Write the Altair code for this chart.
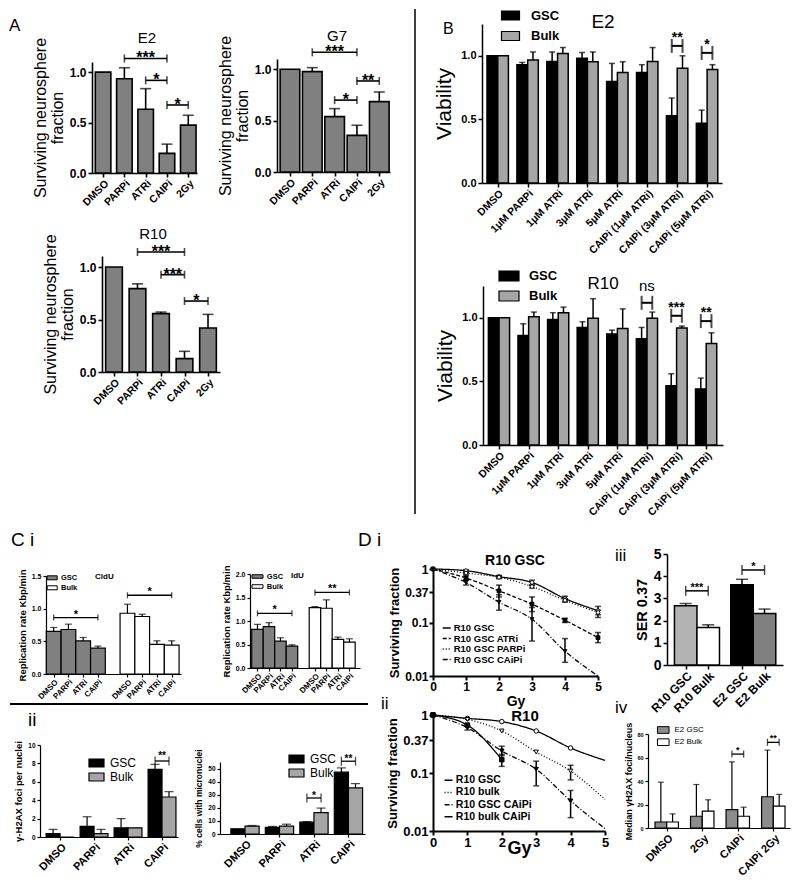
import json
import altair as alt
import pandas as pd

FONT = "Liberation Sans"
SP = pd.DataFrame({"s": [0]})

# ---------------- Panel A : surviving neurosphere fraction ----------------
A_CATS = ["DMSO", "PARPi", "ATRi", "CAIPi", "2Gy"]
A_E2_MEAN = [1.0, 0.934, 0.632, 0.194, 0.474]
A_E2_TOP = [None, 1.043, 0.836, 0.286, 0.572]
A_E2_BRACKETS = [("PARPi", "CAIPi", 1.135, "***"), ("ATRi", "CAIPi", 0.918, "*"), ("CAIPi", "2Gy", 0.674, "*")]
A_G7_MEAN = [1.0, 0.977, 0.539, 0.357, 0.685]
A_G7_TOP = [None, 1.016, 0.617, 0.455, 0.779]
A_G7_BRACKETS = [("PARPi", "CAIPi", 1.165, "***"), ("ATRi", "CAIPi", 0.700, "*"), ("CAIPi", "2Gy", 0.886, "**")]
A_R10_MEAN = [1.0, 0.794, 0.556, 0.127, 0.419]
A_R10_TOP = [None, 0.840, 0.571, 0.197, 0.549]
A_R10_BRACKETS = [("PARPi", "CAIPi", 1.143, "***"), ("ATRi", "CAIPi", 0.927, "***"), ("CAIPi", "2Gy", 0.676, "*")]

# ---------------- Panel B : viability ----------------
B_CATS_E2 = ["DMSO", "1μM PARPi", "1μM ATRi", "3μM ATRi", "5μM ATRi",
             "CAIPi (1μM ATRi)", "CAIPi (3μM ATRi)", "CAIPi (5μM ATRi)"]
B_CATS_R10 = ["DMSO", "1μM PARPi", "1μM ATRi", "3μM ATRi", "5μM ATRi",
              "CAiPi (1μM ATRi)", "CAiPi (3μM ATRi)", "CAiPi (5μM ATRi)"]
B_E2_GSC = [1.0, 0.929, 0.955, 0.980, 0.798, 0.869, 0.529, 0.469]
B_E2_GSC_TOP = [None, 0.948, 1.030, 1.026, 0.940, 0.930, 0.668, 0.573]
B_E2_BULK = [1.0, 0.966, 1.018, 0.953, 0.869, 0.955, 0.903, 0.893]
B_E2_BULK_TOP = [None, 1.030, 1.065, 1.030, 0.953, 1.065, 1.000, 0.930]
B_E2_BRACKETS = [("CAIPi (3μM ATRi)", 1.078, "**"), ("CAIPi (5μM ATRi)", 1.023, "*")]
B_R10_GSC = [1.0, 0.861, 0.987, 0.924, 0.872, 0.835, 0.466, 0.440]
B_R10_GSC_TOP = [None, 0.953, 1.040, 0.969, 0.903, 0.924, 0.560, 0.526]
B_R10_BULK = [1.0, 1.008, 1.040, 0.997, 0.916, 0.997, 0.919, 0.798]
B_R10_BULK_TOP = [None, 1.045, 1.084, 1.150, 1.070, 1.045, 0.935, 0.882]
B_R10_BRACKETS = [("CAiPi (1μM ATRi)", 1.118, "ns"), ("CAiPi (3μM ATRi)", 1.016, "***"),
                  ("CAiPi (5μM ATRi)", 0.974, "**")]

# ---------------- Panel C i : replication rate ----------------
C_CATS = ["DMSO", "PARPi", "ATRi", "CAIPi"]
CI_CLDU_GSC = [0.651, 0.681, 0.508, 0.397]
CI_CLDU_GSC_TOP = [0.712, 0.763, 0.559, 0.427]
CI_CLDU_BULK = [0.930, 0.880, 0.453, 0.442]
CI_CLDU_BULK_TOP = [1.068, 0.915, 0.508, 0.508]
CI_CLDU_BRACKETS = [("GSC", 0.864, "*"), ("Bulk", 1.205, "*")]
CI_IDU_GSC = [0.821, 0.879, 0.571, 0.464]
CI_IDU_GSC_TOP = [0.929, 0.964, 0.643, 0.493]
CI_IDU_BULK = [1.286, 1.271, 0.607, 0.550]
CI_IDU_BULK_TOP = [1.307, 1.450, 0.657, 0.621]
CI_IDU_BRACKETS = [("GSC", 1.164, "*"), ("Bulk", 1.607, "**")]

# ---------------- Panel C ii : foci and micronuclei ----------------
CII_FOCI_GSC = [0.36, 1.16, 1.00, 7.36]
CII_FOCI_GSC_TOP = [0.83, 2.20, 2.00, 7.90]
CII_FOCI_BULK = [0.00, 0.36, 1.00, 4.35]
CII_FOCI_BULK_TOP = [None, 0.83, None, 4.93]
CII_FOCI_BRACKETS = [("CAIPi", 8.26, "**")]
CII_MN_GSC = [4.0, 5.0, 9.0, 47.2]
CII_MN_GSC_TOP = [None, 5.8, 9.5, 50.5]
CII_MN_BULK = [6.0, 6.0, 16.3, 35.2]
CII_MN_BULK_TOP = [6.5, 7.5, 19.8, 38.5]
CII_MN_BRACKETS = [("ATRi", 27.5, "*"), ("CAIPi", 55.6, "**")]

# ---------------- Panel D : clonogenic survival ----------------
DOSE = [0, 1, 2, 3, 4, 5]
SF_TICKS = [0.01, 0.1, 0.37, 1]
DI_NAMES = ["R10 GSC", "R10 GSC ATRi", "R10 GSC PARPi", "R10 GSC CAiPi"]
DI_GSC = [1, 0.93, 0.72, 0.56, 0.28, 0.166]
DI_GSC_LO = [None, 0.86, 0.68, 0.50, 0.25, 0.124]
DI_GSC_HI = [None, 0.97, 0.76, 0.62, 0.31, 0.20]
DI_ATRI = [1, 0.68, 0.39, 0.22, 0.11, 0.052]
DI_ATRI_LO = [None, 0.62, 0.30, 0.16, 0.10, 0.042]
DI_ATRI_HI = [None, 0.75, 0.50, 0.30, 0.12, 0.065]
DI_PARPI = [1, 0.84, 0.70, 0.47, 0.26, 0.154]
DI_PARPI_LO = [None, 0.80, 0.66, 0.44, 0.24, 0.14]
DI_PARPI_HI = [None, 0.88, 0.74, 0.50, 0.28, 0.17]
DI_CAIPI = [1, 0.56, 0.24, 0.115, 0.029, 0.01]
DI_CAIPI_LO = [None, 0.50, 0.17, 0.045, 0.018, None]
DI_CAIPI_HI = [None, 0.62, 0.33, 0.19, 0.050, None]

DII_NAMES = ["R10 GSC", "R10 bulk", "R10 GSC CAiPi", "R10 bulk CAiPi"]
DII_GSC = [1, 0.875, 0.77, 0.53, 0.27, 0.165]
DII_GSC_LO = [None, None, None, None, None, None]
DII_GSC_HI = [None, None, None, None, None, None]
DII_BULK = [1, 0.84, 0.53, 0.23, 0.108, 0.035]
DII_BULK_LO = [None, None, None, None, 0.076, None]
DII_BULK_HI = [None, None, None, None, 0.136, None]
DII_GSC_CAIPI = [1, 0.605, 0.24, 0.116, 0.033, 0.011]
DII_GSC_CAIPI_LO = [None, 0.55, 0.20, 0.06, 0.017, None]
DII_GSC_CAIPI_HI = [None, 0.67, 0.29, 0.16, 0.050, None]
DII_BULK_CAIPI = [1, 0.67, 0.17, None, None, None]
DII_BULK_CAIPI_LO = [None, None, 0.13, None, None, None]
DII_BULK_CAIPI_HI = [None, None, 0.21, None, None, None]

# ---------------- Panel iii : SER ----------------
SER_CATS = ["R10 GSC", "R10 Bulk", "E2 GSC", "E2 Bulk"]
SER_VAL = [2.67, 1.69, 3.61, 2.32]
SER_TOP = [2.77, 1.81, 3.86, 2.52]
SER_BRACKETS = [("R10 GSC", "R10 Bulk", 3.34, "***"), ("E2 GSC", "E2 Bulk", 4.28, "*")]

# ---------------- Panel iv : median foci ----------------
IV_CATS = ["DMSO", "2Gy", "CAIPi", "CAIPi 2Gy"]
IV_GSC = [5.1, 10.0, 15.7, 26.6]
IV_GSC_TOP = [39.0, 37.0, 56.3, 66.3]
IV_BULK = [5.1, 14.3, 10.0, 18.6]
IV_BULK_TOP = [12.0, 24.0, 17.7, 28.6]
IV_BRACKETS = [("CAIPi", 62.9, "*"), ("CAIPi 2Gy", 72.9, "**")]

# ======================= canvas =======================
ORIGIN = 8            # page margin: chart origin sits at page (8, 8)
TOT_W, TOT_H = 784, 868


def js(v):
    return json.dumps(v, ensure_ascii=False)


def P(v):
    """page pixel -> chart pixel"""
    return v - ORIGIN


def cat_axis(ticks, labels, fs, aw, ts, offset, pad=1):
    return alt.Axis(orient="bottom", offset=offset, values=ticks,
                    labelExpr=f"{js(labels)}[indexof({js(ticks)}, datum.value)]",
                    title=None, labelAngle=-45, labelFontSize=fs, labelFontWeight="bold", labelFont=FONT,
                    labelColor="black", labelPadding=pad, domainColor="black", domainWidth=aw,
                    tickColor="black", tickWidth=aw, tickSize=ts, grid=False, labelOverlap=False,
                    labelFlush=False, labelBound=False)


def val_axis(vals, fmt, title, lfs, tfs, aw, ts, tpad, offset, tweight="normal", lh=None):
    kw = dict(orient="left", offset=offset, values=vals, format=fmt, title=title, labelFontSize=lfs,
              labelFontWeight="bold", labelFont=FONT, labelColor="black", labelPadding=2, titleFont=FONT,
              titleFontSize=tfs, titleFontWeight=tweight, titleColor="black", titlePadding=tpad,
              domainColor="black", domainWidth=aw, tickColor="black", tickWidth=aw, tickSize=ts, grid=False,
              labelOverlap=False, labelFlush=False, labelBound=False)
    if lh:
        kw["titleLineHeight"] = lh
    return alt.Axis(**kw)


def rect_legend(box, rx, ry, d, w, h, fs, lo, rp, weight="bold", sw=1.2):
    path = f"M{-w / d:.3f},{-h / d:.3f}H{w / d:.3f}V{h / d:.3f}H{-w / d:.3f}Z"
    return alt.Legend(orient="none", legendX=P(box[0]) + rx, legendY=P(box[1]) + ry, title=None,
                      direction="vertical", symbolType=path, symbolSize=d * d, symbolStrokeColor="black",
                      symbolStrokeWidth=sw, labelFont=FONT, labelFontSize=fs, labelFontWeight=weight,
                      labelColor="black", labelOffset=lo, rowPadding=rp, padding=0, symbolOpacity=1)


def line_legend(box, rx, ry, fs, rp):
    return alt.Legend(orient="none", legendX=P(box[0]) + rx, legendY=P(box[1]) + ry, title=None,
                      direction="vertical", symbolType="stroke", symbolSize=64, symbolStrokeColor="black",
                      symbolStrokeWidth=1.5, labelFont=FONT, labelFontSize=fs, labelFontWeight="bold",
                      labelColor="black", labelOffset=2, rowPadding=rp, padding=0)


def note(text, x, y, fs, weight="normal", align="left"):
    """text placed at page coordinates (x, y = baseline)"""
    return alt.Chart(SP).mark_text(text=text, font=FONT, fontSize=fs, fontWeight=weight, align=align,
                                   baseline="alphabetic", color="black").encode(
        x=alt.value(P(x)), y=alt.value(P(y)))


def hline(x1, x2, y, w):
    return alt.Chart(SP).mark_rule(color="black", strokeWidth=w).encode(
        x=alt.value(P(x1)), x2=alt.value(P(x2)), y=alt.value(P(y)))


def vline(x, y1, y2, w):
    return alt.Chart(SP).mark_rule(color="black", strokeWidth=w).encode(
        x=alt.value(P(x)), y=alt.value(P(y1)), y2=alt.value(P(y2)))


def frame_scales(box, x_dom, y_dom, ylog=False):
    X, Y, W, H = box
    xs = alt.Scale(domain=x_dom, range=[P(X), P(X) + W], nice=False, zero=False)
    if ylog:
        ys = alt.Scale(type="log", domain=y_dom, range=[P(Y) + H, P(Y)], nice=False)
    else:
        ys = alt.Scale(domain=y_dom, range=[P(Y) + H, P(Y)], nice=False, zero=False)
    return xs, ys, P(Y) + H - TOT_H, -P(X)


def bar_panel(box, series, ticks, labels, x_dom, y_dom, y_ticks, y_fmt, y_title, st,
              brackets=(), legend=None):
    rows = []
    for name, poss, half, vals, tops, color in series:
        for p, v, t in zip(poss, vals, tops):
            rows.append({"grp": name, "pos": p, "x1": p - half, "x2": p + half, "val": v, "top": t})
    df = pd.DataFrame(rows)
    xs, ys, xoff, yoff = frame_scales(box, x_dom, y_dom)
    xa = cat_axis(ticks, labels, st["xfs"], st["aw"], st["ts"], xoff, st.get("xpad", 1))
    ya = val_axis(y_ticks, y_fmt, y_title, st["yfs"], st["tfs"], st["aw"], st["ts"], st["tpad"], yoff,
                  st.get("tw", "normal"), st.get("lh"))

    def XX(f):
        return alt.X(f, scale=xs, axis=xa)

    def YY(f):
        return alt.Y(f, scale=ys, axis=ya)

    base = alt.Chart(df)
    layers = [base.mark_rect(stroke="black", strokeWidth=st["bw"]).encode(
        x=XX("x1:Q"), x2="x2:Q", y=YY("val:Q"), y2=alt.datum(0),
        fill=alt.Fill("grp:N", scale=alt.Scale(domain=[s[0] for s in series], range=[s[5] for s in series]),
                      legend=legend))]
    eb = base.transform_filter("isValid(datum.top)")
    layers.append(eb.mark_rule(color="black", strokeWidth=st["ew"]).encode(
        x=XX("pos:Q"), y=YY("val:Q"), y2="top:Q"))
    layers.append(eb.mark_tick(orient="horizontal", color="black", size=st["cap"], thickness=st["ew"]).encode(
        x=XX("pos:Q"), y=YY("top:Q")))
    if brackets:
        bdf = pd.DataFrame({"b1": [b[0] for b in brackets], "b2": [b[1] for b in brackets],
                            "by": [b[2] for b in brackets], "lab": [b[3] for b in brackets]})
        bdf["bm"] = (bdf["b1"] + bdf["b2"]) / 2
        ldf = pd.DataFrame({"bx": list(bdf["b1"]) + list(bdf["b2"]), "by": list(bdf["by"]) * 2})
        layers.append(alt.Chart(bdf).mark_rule(color="black", strokeWidth=st["brw"]).encode(
            x=XX("b1:Q"), x2="b2:Q", y=YY("by:Q")))
        layers.append(alt.Chart(ldf).mark_tick(orient="vertical", color="black", size=st["leg"],
                                               thickness=st["brw"]).encode(x=XX("bx:Q"), y=YY("by:Q")))
        layers.append(alt.Chart(bdf).transform_filter("datum.lab != 'ns'").mark_text(
            font=FONT, fontSize=st["bfs"], fontWeight="bold", baseline="alphabetic", align="center",
            color="black", dy=st["bdy"]).encode(x=XX("bm:Q"), y=YY("by:Q"), text="lab:N"))
        if "ns" in list(bdf["lab"]):
            layers.append(alt.Chart(bdf).transform_filter("datum.lab == 'ns'").mark_text(
                font=FONT, fontSize=st["nsfs"], fontWeight="normal", baseline="alphabetic", align="center",
                color="black", dy=st["nsdy"]).encode(x=XX("bm:Q"), y=YY("by:Q"), text="lab:N"))
    return alt.layer(*layers)


def surv_panel(box, names, sfs, los, his, last_mark, dashes, shapes, fills, st, legend):
    rows, erows = [], []
    for n, sf, lo, hi, lm in zip(names, sfs, los, his, last_mark):
        for d, v in zip(DOSE, sf):
            if v is not None:
                rows.append({"series": n, "dose": d, "sf": v, "mk": d <= lm})
        for d, l, h in zip(DOSE, lo, hi):
            if l is not None:
                erows.append({"series": n, "dose": d, "lo": l, "hi": h})
    df = pd.DataFrame(rows)
    edf = pd.DataFrame(erows)
    xs, ys, xoff, yoff = frame_scales(box, [0, 5], [0.01, 1], ylog=True)
    common = dict(labelFontSize=st["lfs"], labelFontWeight="bold", labelFont=FONT, labelColor="black",
                  labelPadding=1, titleFont=FONT, titleFontWeight="bold", titleColor="black",
                  domainColor="black", domainWidth=st["aw"], tickColor="black", tickWidth=st["aw"],
                  tickSize=st["ts"], grid=False, labelOverlap=False, labelFlush=False, labelBound=False)
    xa = alt.Axis(orient="bottom", offset=xoff, values=DOSE, format="d", title="Gy", labelAngle=0,
                  titleFontSize=st["gyfs"], titlePadding=st["gypad"], **common)
    ya = alt.Axis(orient="left", offset=yoff, values=SF_TICKS, format="~g", title="Surviving fraction",
                  titleFontSize=st["tfs"], titlePadding=st["tpad"], **common)

    def XX(f):
        return alt.X(f, scale=xs, axis=xa)

    def YY(f):
        return alt.Y(f, scale=ys, axis=ya)

    layers = [alt.Chart(df).mark_line(color="black", strokeWidth=st["lw"], interpolate="monotone").encode(
        x=XX("dose:Q"), y=YY("sf:Q"), order="dose:Q",
        strokeDash=alt.StrokeDash("series:N", scale=alt.Scale(domain=names, range=dashes), legend=legend))]
    layers.append(alt.Chart(edf).mark_rule(color="black", strokeWidth=st["ew"]).encode(
        x=XX("dose:Q"), y=YY("lo:Q"), y2="hi:Q"))
    layers.append(alt.Chart(edf).transform_fold(["lo", "hi"], as_=["k", "v"]).mark_tick(
        orient="horizontal", color="black", size=st["cap"], thickness=st["ew"]).encode(
        x=XX("dose:Q"), y=YY("v:Q")))
    # one marker layer per series with a fixed symbol (keeps the line-style legend clean)
    for n, shp, fl in zip(names, shapes, fills):
        layers.append(alt.Chart(df).transform_filter(f"datum.mk && datum.series == '{n}'").mark_point(
            shape=shp, filled=True, fill=fl, size=st["ms"], stroke="black", strokeWidth=1, opacity=1).encode(
            x=XX("dose:Q"), y=YY("sf:Q")))
    return alt.layer(*layers)


# ======================= styles =======================
ST_A = dict(bw=1.6, ew=1.6, cap=11, aw=1.6, ts=4, xfs=10.5, yfs=12, tfs=16, tpad=4, lh=17,
            brw=1.6, leg=8, bfs=16, bdy=5)
ST_B = dict(bw=1.5, ew=1.5, cap=6, aw=1.5, ts=4, xfs=10.5, yfs=11, tfs=21, tpad=6,
            brw=2, leg=14, bfs=14, bdy=-4, nsdy=-12, nsfs=15)
ST_CI = dict(bw=1.2, ew=1.2, cap=7, aw=1.2, ts=3, xfs=8, yfs=7, tfs=9.5, tpad=4, tw="bold",
             brw=1.3, leg=6, bfs=11, bdy=0)
ST_CII_L = dict(bw=1.2, ew=1.2, cap=9, aw=1.2, ts=3, xfs=11, yfs=6.5, tfs=9.5, tpad=4, tw="bold",
                brw=1.3, leg=9, bfs=10, bdy=-2)
ST_CII_R = dict(ST_CII_L, tfs=8.5, bdy=1)
ST_SER = dict(bw=1.5, ew=1.5, cap=12, aw=1.5, ts=4, xfs=12, yfs=14, tfs=14.5, tpad=4, tw="bold",
              brw=1.5, leg=10, bfs=11, bdy=0)
ST_IV = dict(bw=1.2, ew=1.2, cap=6, aw=1.2, ts=3, xfs=11, yfs=5.5, tfs=9, tpad=3, tw="bold",
             brw=1.3, leg=7, bfs=9, bdy=-1)
ST_DI = dict(lfs=12, gyfs=14, gypad=2, tfs=13, tpad=3, aw=2, ts=4, lw=1.3, ew=1.5, cap=6, ms=14)
ST_DII = dict(lfs=13, gyfs=18, gypad=-10, tfs=13, tpad=3, aw=2, ts=4, lw=1.3, ew=1.5, cap=6, ms=20)

GREY = "#808080"
LIGHT = "#a6a6a6"

# plot-area boxes (page pixels): left, top, width, height
BOX_A_E2 = (92, 61, 105, 111)
BOX_A_G7 = (277, 58, 113, 113)
BOX_A_R10 = (102, 255, 118, 116)
BOX_B_E2 = (482, 23, 240, 159)
BOX_B_R10 = (483, 285, 240, 159)
BOX_CI_L = (46, 575, 135, 98)
BOX_CI_R = (250, 573, 110, 94)
BOX_CII_L = (40, 744, 138, 92)
BOX_CII_R = (220, 761, 145, 72)
BOX_DI = (433, 568, 165, 107)
BOX_DII = (433, 714, 172, 116)
BOX_SER = (667, 553, 116, 111)
BOX_IV = (648, 733, 142, 94)

# ======================= panels =======================
A_POS = list(range(len(A_CATS)))
A_IDX = {c: i for i, c in enumerate(A_CATS)}
A_YT = ["Surviving neurosphere", "fraction"]


def a_panel(box, mean, top, br, half, x_dom, y_top):
    return bar_panel(box, [("fraction", A_POS, half, mean, top, GREY)], A_POS, A_CATS, x_dom, [0, y_top],
                     [0, 0.5, 1.0], ".1f", A_YT, ST_A,
                     brackets=[(A_IDX[a], A_IDX[b], y, l) for a, b, y, l in br])


pA_E2 = a_panel(BOX_A_E2, A_E2_MEAN, A_E2_TOP, A_E2_BRACKETS, 0.365, [-0.52, 4.41], 1.1)
pA_G7 = a_panel(BOX_A_G7, A_G7_MEAN, A_G7_TOP, A_G7_BRACKETS, 0.44, [-0.58, 4.48], 1.1)
pA_R10 = a_panel(BOX_A_R10, A_R10_MEAN, A_R10_TOP, A_R10_BRACKETS, 0.355, [-0.51, 4.51], 1.105)

B_OFF = 0.18
B_HALF = 0.178


def b_panel(box, cats, gsc, gsc_top, bulk, bulk_top, br, x_dom, legend):
    pos = list(range(len(cats)))
    idx = {c: i for i, c in enumerate(cats)}
    series = [("GSC", [p - B_OFF for p in pos], B_HALF, gsc, gsc_top, "black"),
              ("Bulk", [p + B_OFF for p in pos], B_HALF, bulk, bulk_top, LIGHT)]
    return bar_panel(box, series, pos, cats, x_dom, [0, 1.25], [0, 0.5, 1.0], ".1f", "Viability", ST_B,
                     brackets=[(idx[c] - B_OFF, idx[c] + B_OFF, y, l) for c, y, l in br], legend=legend)


pB_E2 = b_panel(BOX_B_E2, B_CATS_E2, B_E2_GSC, B_E2_GSC_TOP, B_E2_BULK, B_E2_BULK_TOP, B_E2_BRACKETS,
                [-0.525, 7.5], rect_legend(BOX_B_E2, 22, -15, 9, 18, 9, 13, 14, 5.5))
pB_R10 = b_panel(BOX_B_R10, B_CATS_R10, B_R10_GSC, B_R10_GSC_TOP, B_R10_BULK, B_R10_BULK_TOP, B_R10_BRACKETS,
                 [-0.54, 7.57], rect_legend(BOX_B_R10, 19.5, -16.5, 9, 20, 10, 13, 13.5, 5))

CI_GSC_POS = [0, 1, 2, 3]
CI_BULK_POS = [5, 6, 7, 8]
CI_TICKS = CI_GSC_POS + CI_BULK_POS
CI_LABELS = C_CATS + C_CATS
CI_GRP = {"GSC": (0, 3), "Bulk": (5, 8)}
CI_YT = "Replication rate Kbp/min"


def ci_panel(box, gsc, gsc_top, bulk, bulk_top, br, x_dom, y_dom, y_ticks, legend):
    series = [("GSC", CI_GSC_POS, 0.5, gsc, gsc_top, GREY), ("Bulk", CI_BULK_POS, 0.5, bulk, bulk_top, "white")]
    return bar_panel(box, series, CI_TICKS, CI_LABELS, x_dom, y_dom, y_ticks, ".1f", CI_YT, ST_CI,
                     brackets=[(CI_GRP[g][0], CI_GRP[g][1], y, l) for g, y, l in br], legend=legend)


pCi_L = ci_panel(BOX_CI_L, CI_CLDU_GSC, CI_CLDU_GSC_TOP, CI_CLDU_BULK, CI_CLDU_BULK_TOP, CI_CLDU_BRACKETS,
                 [-0.52, 8.63], [0, 1.5], [0, 0.5, 1.0, 1.5],
                 rect_legend(BOX_CI_L, 1.7, -2.7, 8, 10, 4, 7.5, 4.3, 1, sw=1))
pCi_R = ci_panel(BOX_CI_R, CI_IDU_GSC, CI_IDU_GSC_TOP, CI_IDU_BULK, CI_IDU_BULK_TOP, CI_IDU_BRACKETS,
                 [-0.65, 8.92], [0, 2.0], [0, 0.5, 1.0, 1.5, 2.0],
                 rect_legend(BOX_CI_R, 3, -2, 8, 11, 3.5, 7.5, 4.8, 1, sw=1))

C_POS = list(range(len(C_CATS)))
C_IDX = {c: i for i, c in enumerate(C_CATS)}
CII_OFF = 0.205


def cii_panel(box, gsc, gsc_top, bulk, bulk_top, br, x_dom, y_dom, y_ticks, y_title, st, legend):
    series = [("GSC", [p - CII_OFF for p in C_POS], CII_OFF, gsc, gsc_top, "black"),
              ("Bulk", [p + CII_OFF for p in C_POS], CII_OFF, bulk, bulk_top, LIGHT)]
    return bar_panel(box, series, C_POS, C_CATS, x_dom, y_dom, y_ticks, "d", y_title, st,
                     brackets=[(C_IDX[c] - CII_OFF, C_IDX[c] + CII_OFF, y, l) for c, y, l in br],
                     legend=legend)


pCii_L = cii_panel(BOX_CII_L, CII_FOCI_GSC, CII_FOCI_GSC_TOP, CII_FOCI_BULK, CII_FOCI_BULK_TOP, CII_FOCI_BRACKETS,
                   [-0.59, 3.47], [0, 10], [0, 2, 4, 6, 8, 10], "γ-H2AX foci per nuclei", ST_CII_L,
                   rect_legend(BOX_CII_L, 49.5, 11, 12, 15, 8, 12, 6.5, 0, weight="normal"))
pCii_R = cii_panel(BOX_CII_R, CII_MN_GSC, CII_MN_GSC_TOP, CII_MN_BULK, CII_MN_BULK_TOP, CII_MN_BRACKETS,
                   [-0.725, 3.48], [0, 55], [0, 10, 20, 30, 40, 50], "% cells with micronuclei", ST_CII_R,
                   rect_legend(BOX_CII_R, 69.5, -10, 12, 15, 8, 12, 6.5, 0, weight="normal"))

pDi = surv_panel(BOX_DI, DI_NAMES, [DI_GSC, DI_ATRI, DI_PARPI, DI_CAIPI],
                 [DI_GSC_LO, DI_ATRI_LO, DI_PARPI_LO, DI_CAIPI_LO],
                 [DI_GSC_HI, DI_ATRI_HI, DI_PARPI_HI, DI_CAIPI_HI], [5, 5, 5, 4],
                 [[1, 0], [4, 2], [1, 2], [5, 2, 1, 2]],
                 ["circle", "square", "circle", "triangle-down"], ["white", "black", "white", "black"],
                 ST_DI, line_legend(BOX_DI, 8.7, 54, 9.5, 0.5))
pDii = surv_panel(BOX_DII, DII_NAMES, [DII_GSC, DII_BULK, DII_GSC_CAIPI, DII_BULK_CAIPI],
                  [DII_GSC_LO, DII_BULK_LO, DII_GSC_CAIPI_LO, DII_BULK_CAIPI_LO],
                  [DII_GSC_HI, DII_BULK_HI, DII_GSC_CAIPI_HI, DII_BULK_CAIPI_HI], [4, 4, 4, 2],
                  [[1, 0], [1, 2], [5, 2, 1, 2], [1, 0]],
                  ["circle", "triangle-down", "triangle-down", "square"], ["white", "white", "black", "black"],
                  ST_DII, line_legend(BOX_DII, 10.3, 60, 10.5, 1.2))

SER_POS = [0, 1, 2.5, 3.5]
SER_COLORS = ["#b3b3b3", "white", "black", GREY]
SER_IDX = dict(zip(SER_CATS, SER_POS))
pSER = bar_panel(BOX_SER, [(c, [p], 0.5, [v], [t], col)
                           for c, p, v, t, col in zip(SER_CATS, SER_POS, SER_VAL, SER_TOP, SER_COLORS)],
                 SER_POS, SER_CATS, [-0.83, 4.32], [0, 5], [0, 1, 2, 3, 4, 5], "d", "SER 0.37", ST_SER,
                 brackets=[(SER_IDX[a], SER_IDX[b], y, l) for a, b, y, l in SER_BRACKETS])

IV_POS = list(range(len(IV_CATS)))
IV_IDX = {c: i for i, c in enumerate(IV_CATS)}
IV_OFF = 0.165
pIV = bar_panel(BOX_IV, [("E2 GSC", [p - IV_OFF for p in IV_POS], IV_OFF, IV_GSC, IV_GSC_TOP, "#8c8c8c"),
                         ("E2 Bulk", [p + IV_OFF for p in IV_POS], IV_OFF, IV_BULK, IV_BULK_TOP, "white")],
                IV_POS, IV_CATS, [-0.527, 3.47], [0, 80], [0, 20, 40, 60, 80], "d",
                "Median γH2AX foci/nucleus", ST_IV,
                brackets=[(IV_IDX[c] - IV_OFF, IV_IDX[c] + IV_OFF, y, l) for c, y, l in IV_BRACKETS],
                legend=rect_legend(BOX_IV, 8.75, -10.5, 11.5, 11.6, 6.7, 8, 4.75, 0.2, weight="normal", sw=1))

# ======================= titles, panel letters, separators =======================
decor = [
    note("E2", 147, 42, 15, align="center"),
    note("G7", 337, 40, 15, align="center"),
    note("R10", 153, 238, 15, align="center"),
    note("E2", 603, 27, 19, align="center"),
    note("R10", 603, 288, 17, align="center"),
    note("R10 GSC", 515, 564, 14, "bold", align="center"),
    note("R10", 525, 720, 15, "bold", align="center"),
    note("A", 9, 30, 17),
    note("B", 443, 33, 16),
    note("C i", 11, 545, 19),
    note("ii", 28, 725, 19),
    note("D i", 358, 545, 19),
    note("ii", 381, 708, 17),
    note("iii", 615, 560, 17),
    note("iv", 615, 712, 17),
    note("CldU", 95, 578, 8, "bold"),
    note("IdU", 291, 577, 8, "bold"),
    vline(415, 8, 513, 1.5),
    hline(10, 368, 703, 2),
]

panels = [pA_E2, pA_G7, pA_R10, pB_E2, pB_R10, pCi_L, pCi_R, pCii_L, pCii_R, pDi, pDii, pSER, pIV]

chart = alt.layer(*panels, *decor).resolve_scale(
    x="independent", y="independent", fill="independent", strokeDash="independent"
).properties(width=TOT_W, height=TOT_H, padding=0, background="white").configure_view(
    stroke=None).configure_axis(labelOverlap=False)

chart.save("out.html", embed_options={"renderer": "svg", "actions": False})
